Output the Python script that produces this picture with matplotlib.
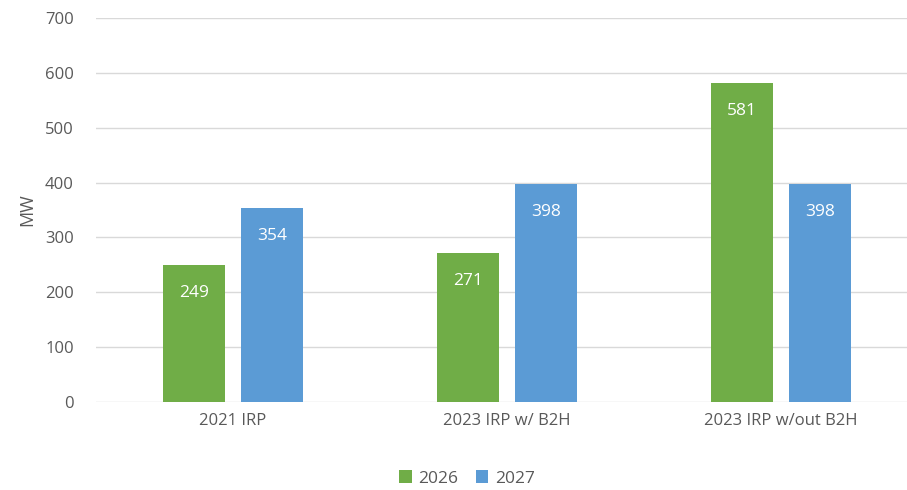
import matplotlib.pyplot as plt
import numpy as np

categories = ['2021 IRP', '2023 IRP w/ B2H', '2023 IRP w/out B2H']
series_names = ['2026', '2027']
vals_2026 = [249, 271, 581]
vals_2027 = [354, 398, 398]

plt.rcParams['font.family'] = ['Open Sans', 'DejaVu Sans']
grey = '#595959'

fig = plt.figure(figsize=(9.07, 4.90), dpi=100)
ax = fig.add_axes([0.106, 0.1796, 0.906, 0.7834])

x = np.arange(len(categories))
w = 0.226
off = 0.142
b1 = ax.bar(x - off, vals_2026, w, color='#70AD47', label=series_names[0], zorder=3)
b2 = ax.bar(x + off, vals_2027, w, color='#5B9BD5', label=series_names[1], zorder=3)

for bars in (b1, b2):
    for r in bars:
        ax.annotate(f"{int(r.get_height())}", (r.get_x() + r.get_width() / 2, r.get_height()),
                    xytext=(0, -28), textcoords='offset pixels',
                    ha='center', va='center', color='white', fontsize=12.5, zorder=4)

ax.set_xlim(-0.5, 2.5)
ax.set_ylim(0, 700)
ax.set_yticks(range(0, 701, 100))
ax.set_xticks(x)
ax.set_xticklabels(categories)
ax.grid(axis='y', color='#d9d9d9', linewidth=1, zorder=0)
for s in ax.spines.values():
    s.set_visible(False)
ax.tick_params(length=0, colors=grey, labelsize=12)
ax.tick_params(axis='y', pad=16)
ax.tick_params(axis='x', pad=8)
ax.set_ylabel('MW', color=grey, fontsize=13, labelpad=6)

fig.legend(loc='lower center', ncol=2, frameon=False, bbox_to_anchor=(0.515, -0.025),
           fontsize=12.5, labelcolor=grey, handlelength=0.7, handleheight=0.7,
           handletextpad=0.4, columnspacing=1.0)

fig.savefig('out.png', dpi=100)
